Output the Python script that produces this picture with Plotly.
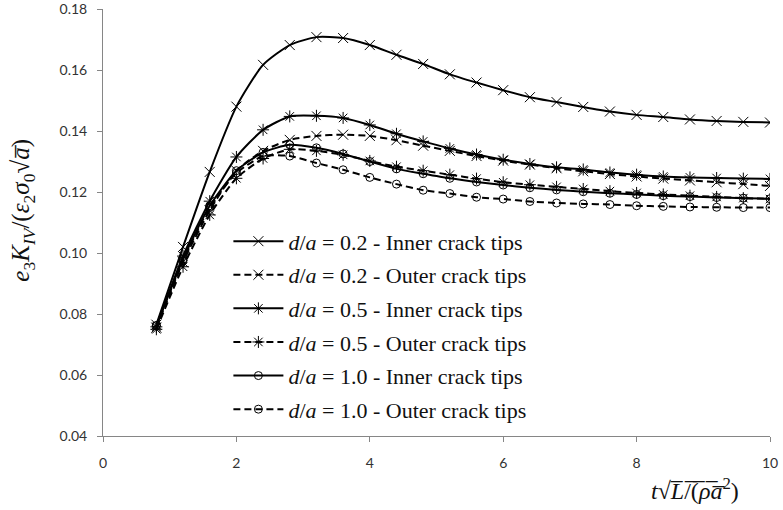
import plotly.graph_objects as go

x_vals = [0.8, 1.2, 1.6, 2.0, 2.4, 2.8, 3.2, 3.6, 4.0, 4.4, 4.8, 5.2, 5.6, 6.0,
          6.4, 6.8, 7.2, 7.6, 8.0, 8.4, 8.8, 9.2, 9.6, 10.0]

inner_02 = [0.0765, 0.1020, 0.1266, 0.1480, 0.1617, 0.1682, 0.1708, 0.1705, 0.1682, 0.1650,
            0.1620, 0.1586, 0.1559, 0.1534, 0.1511, 0.1495, 0.1479, 0.1464, 0.1453, 0.1446,
            0.1438, 0.1433, 0.1430, 0.1428]
outer_02 = [0.0755, 0.0970, 0.1140, 0.1270, 0.1335, 0.1371, 0.1384, 0.1388, 0.1384, 0.1370,
            0.1352, 0.1335, 0.1318, 0.1303, 0.1290, 0.1278, 0.1268, 0.1259, 0.1251, 0.1244,
            0.1238, 0.1232, 0.1226, 0.1220]
inner_05 = [0.0758, 0.0990, 0.1170, 0.1315, 0.1404, 0.1448, 0.1450, 0.1443, 0.1420, 0.1391,
            0.1366, 0.1343, 0.1323, 0.1306, 0.1292, 0.1281, 0.1274, 0.1264, 0.1257, 0.1251,
            0.1248, 0.1246, 0.1244, 0.1243]
outer_05 = [0.0750, 0.0955, 0.1125, 0.1245, 0.1310, 0.1340, 0.1335, 0.1322, 0.1302, 0.1283,
            0.1270, 0.1257, 0.1244, 0.1232, 0.1224, 0.1217, 0.1210, 0.1203, 0.1197, 0.1192,
            0.1188, 0.1184, 0.1180, 0.1177]
inner_10 = [0.0762, 0.0980, 0.1155, 0.1270, 0.1330, 0.1355, 0.1345, 0.1325, 0.1300, 0.1276,
            0.1260, 0.1245, 0.1233, 0.1223, 0.1214, 0.1207, 0.1201, 0.1196, 0.1192, 0.1188,
            0.1185, 0.1182, 0.1180, 0.1178]
outer_10 = [0.0762, 0.0975, 0.1150, 0.1262, 0.1318, 0.1318, 0.1295, 0.1273, 0.1248, 0.1226,
            0.1206, 0.1195, 0.1183, 0.1177, 0.1169, 0.1164, 0.1161, 0.1159, 0.1155, 0.1153,
            0.1151, 0.1150, 0.1149, 0.1149]

x_ticks = [0, 2, 4, 6, 8, 10]
y_ticks = [0.04, 0.06, 0.08, 0.10, 0.12, 0.14, 0.16, 0.18]

names = [
    "<i>d</i>/<i>a</i> = 0.2 - Inner crack tips",
    "<i>d</i>/<i>a</i> = 0.2 - Outer crack tips",
    "<i>d</i>/<i>a</i> = 0.5 - Inner crack tips",
    "<i>d</i>/<i>a</i> = 0.5 - Outer crack tips",
    "<i>d</i>/<i>a</i> = 1.0 - Inner crack tips",
    "<i>d</i>/<i>a</i> = 1.0 - Outer crack tips",
]
series = [inner_02, outer_02, inner_05, outer_05, inner_10, outer_10]
dashes = ["solid", "7px,4px", "solid", "7px,4px", "solid", "7px,4px"]
symbols = ["x-thin-open", "x-thin-open", "asterisk-open", "asterisk-open",
           "circle-open", "circle-open"]
sizes = [10, 10, 10, 10, 8, 8]

fig = go.Figure()
for i, (nm, ys) in enumerate(zip(names, series)):
    fig.add_trace(go.Scatter(
        x=x_vals, y=ys, name=nm, mode="lines+markers",
        legendgroup=f"g{i}",
        line=dict(color="black", width=2, dash=dashes[i], shape="spline", smoothing=0.6),
        marker=dict(symbol=symbols[i], size=sizes[i], color="black",
                    line=dict(color="black", width=1)),
    ))

fig.update_layout(
    width=783, height=510,
    margin=dict(l=103, r=13, t=9, b=74),
    plot_bgcolor="white", paper_bgcolor="white",
    font=dict(family="Lato, Liberation Sans, sans-serif", size=14, color="#333333"),
    showlegend=True,
    legend=dict(
        x=0.188, y=0.505, xanchor="left", yanchor="top",
        bgcolor="rgba(255,255,255,0)",
        font=dict(family="Liberation Serif, DejaVu Serif, serif", size=22, color="#111111"),
        tracegroupgap=2, itemwidth=50,
    ),
    xaxis=dict(
        range=[0, 10], tickvals=x_ticks, automargin=False,
        showline=True, linecolor="#868686", linewidth=1,
        ticks="outside", ticklen=5, tickcolor="#868686", ticklabelstandoff=9,
        showgrid=False, zeroline=False, tickfont=dict(size=14),
    ),
    yaxis=dict(
        range=[0.04, 0.18002], tickvals=y_ticks, automargin=False,
        tickformat=".2f", ticklabeloverflow="allow",
        showline=True, linecolor="#868686", linewidth=1,
        ticks="outside", ticklen=5, tickcolor="#868686", ticklabelstandoff=7,
        showgrid=False, zeroline=False, tickfont=dict(size=14),
    ),
)

fig.add_annotation(
    xref="paper", yref="paper", x=-0.12, y=0.53, xanchor="center", yanchor="middle",
    textangle=-90, showarrow=False,
    text="<i>e</i><sub>3</sub><i>K</i><sub><i>IV</i></sub>/(<i>ε</i><sub>2</sub><i>σ</i><sub>0</sub>√<i>a̅</i>)",
    font=dict(family="Liberation Serif, DejaVu Serif, serif", size=25, color="#111111"),
)
fig.add_annotation(
    xref="paper", yref="paper", x=0.888, y=-0.125, xanchor="center", yanchor="middle",
    showarrow=False,
    text="<i>t</i>√<i>L̅</i>/̅(̅<i>ρ̅a̅</i><sup>2</sup>)",
    font=dict(family="Liberation Serif, DejaVu Serif, serif", size=24, color="#111111"),
)

fig.write_html("out.html")
